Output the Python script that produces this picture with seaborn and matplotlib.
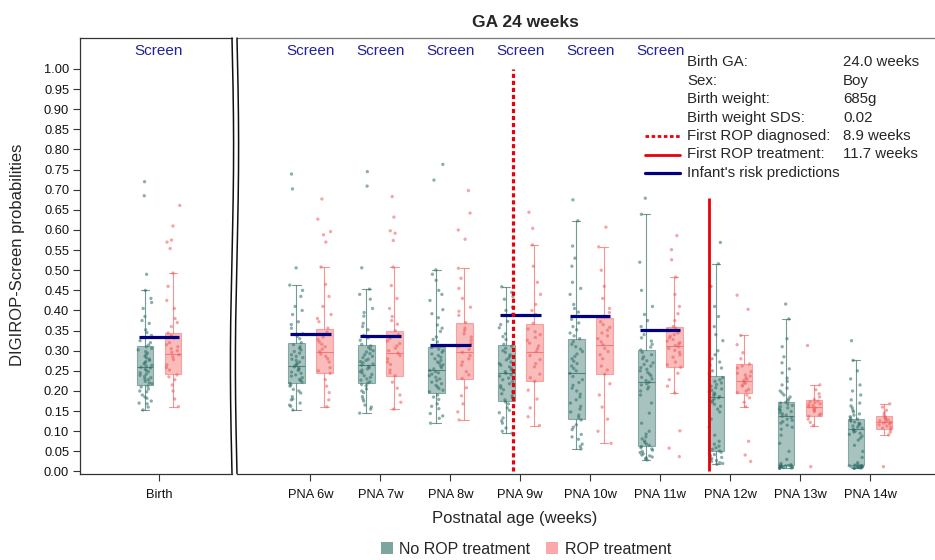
import numpy as np
import pandas as pd
import matplotlib
matplotlib.use("Agg")
import matplotlib.pyplot as plt
from matplotlib.lines import Line2D
from matplotlib.patches import Patch
from matplotlib.ticker import FormatStrFormatter
import seaborn as sns

# ---------------- data ----------------
categories = ["Birth", "PNA 6w", "PNA 7w", "PNA 8w", "PNA 9w", "PNA 10w",
              "PNA 11w", "PNA 12w", "PNA 13w", "PNA 14w"]
pna_weeks = [6, 7, 8, 9, 10, 11, 12, 13, 14]
groups = ["No ROP treatment", "ROP treatment"]

# box statistics (Birth, PNA 6w ... PNA 14w)
no_whislo = [0.153, 0.153, 0.145, 0.120, 0.095, 0.056, 0.029, 0.018, 0.008, 0.008]
no_q1     = [0.215, 0.219, 0.219, 0.195, 0.174, 0.131, 0.064, 0.050, 0.017, 0.017]
no_med    = [0.259, 0.263, 0.265, 0.251, 0.244, 0.244, 0.222, 0.185, 0.137, 0.105]
no_q3     = [0.312, 0.320, 0.315, 0.310, 0.315, 0.330, 0.302, 0.238, 0.172, 0.131]
no_whishi = [0.450, 0.463, 0.453, 0.501, 0.459, 0.623, 0.639, 0.516, 0.379, 0.276]

tx_whislo = [0.161, 0.161, 0.155, 0.128, 0.114, 0.070, 0.195, 0.161, 0.114, 0.091]
tx_q1     = [0.241, 0.244, 0.238, 0.231, 0.224, 0.242, 0.259, 0.196, 0.137, 0.106]
tx_med    = [0.292, 0.298, 0.294, 0.296, 0.298, 0.315, 0.313, 0.226, 0.161, 0.122]
tx_q3     = [0.344, 0.354, 0.348, 0.368, 0.367, 0.382, 0.359, 0.267, 0.178, 0.139]
tx_whishi = [0.493, 0.508, 0.508, 0.505, 0.563, 0.558, 0.483, 0.338, 0.215, 0.168]

# individual probabilities (read approximately from the strip points)
no_birth = [0.153, 0.16, 0.168, 0.175, 0.182, 0.19, 0.198, 0.205, 0.212, 0.218, 0.224, 0.23,
            0.236, 0.242, 0.248, 0.254, 0.259, 0.264, 0.27, 0.276, 0.282, 0.29, 0.298, 0.306,
            0.314, 0.325, 0.338, 0.352, 0.368, 0.385, 0.405, 0.43, 0.45, 0.49, 0.685, 0.72,
            0.17, 0.185, 0.2, 0.21, 0.22, 0.228, 0.233, 0.239, 0.245, 0.251, 0.257, 0.262,
            0.267, 0.273, 0.279, 0.286, 0.294, 0.302, 0.31, 0.32, 0.345, 0.375, 0.42]
tx_birth = [0.161, 0.18, 0.2, 0.215, 0.228, 0.24, 0.252, 0.265, 0.278, 0.29, 0.3, 0.31, 0.32,
            0.332, 0.344, 0.36, 0.38, 0.405, 0.425, 0.46, 0.493, 0.554, 0.57, 0.575, 0.61, 0.661,
            0.235, 0.258, 0.285, 0.296, 0.305, 0.315, 0.338, 0.37]
no_6w = [0.153, 0.162, 0.17, 0.178, 0.186, 0.195, 0.204, 0.212, 0.219, 0.226, 0.233, 0.24,
         0.247, 0.254, 0.26, 0.266, 0.272, 0.279, 0.286, 0.294, 0.302, 0.31, 0.32, 0.33, 0.342,
         0.356, 0.372, 0.39, 0.41, 0.435, 0.463, 0.506, 0.702, 0.739,
         0.165, 0.18, 0.2, 0.215, 0.222, 0.229, 0.237, 0.244, 0.251, 0.257, 0.263, 0.269,
         0.276, 0.283, 0.29, 0.298, 0.306, 0.315, 0.336, 0.365, 0.4, 0.45]
tx_6w = [0.161, 0.178, 0.196, 0.212, 0.228, 0.244, 0.258, 0.272, 0.286, 0.298, 0.31, 0.322,
         0.334, 0.346, 0.356, 0.372, 0.39, 0.41, 0.435, 0.465, 0.508, 0.57, 0.588, 0.596, 0.627,
         0.677, 0.25, 0.28, 0.292, 0.304, 0.316, 0.328, 0.34, 0.38]
no_7w = [0.145, 0.155, 0.165, 0.175, 0.186, 0.196, 0.205, 0.213, 0.22, 0.227, 0.234, 0.241,
         0.248, 0.255, 0.261, 0.267, 0.273, 0.279, 0.286, 0.293, 0.3, 0.308, 0.316, 0.326, 0.338,
         0.352, 0.368, 0.386, 0.405, 0.428, 0.453, 0.506, 0.709, 0.745,
         0.16, 0.18, 0.2, 0.216, 0.223, 0.23, 0.238, 0.245, 0.252, 0.258, 0.264, 0.27, 0.276,
         0.283, 0.29, 0.297, 0.304, 0.312, 0.332, 0.36, 0.395, 0.44]
tx_7w = [0.155, 0.172, 0.19, 0.207, 0.222, 0.238, 0.252, 0.266, 0.28, 0.294, 0.306, 0.318, 0.33,
         0.34, 0.35, 0.366, 0.385, 0.405, 0.43, 0.462, 0.508, 0.574, 0.592, 0.598, 0.632, 0.683,
         0.245, 0.272, 0.288, 0.3, 0.312, 0.324, 0.336, 0.375]
no_8w = [0.12, 0.132, 0.144, 0.156, 0.168, 0.179, 0.19, 0.198, 0.206, 0.214, 0.222, 0.23, 0.238,
         0.245, 0.251, 0.258, 0.265, 0.272, 0.28, 0.288, 0.296, 0.304, 0.312, 0.322, 0.334, 0.348,
         0.364, 0.382, 0.402, 0.425, 0.45, 0.475, 0.501, 0.724, 0.763,
         0.138, 0.162, 0.185, 0.202, 0.21, 0.218, 0.226, 0.234, 0.242, 0.248, 0.255, 0.262,
         0.269, 0.276, 0.284, 0.292, 0.3, 0.308, 0.328, 0.356, 0.392, 0.44, 0.49]
tx_8w = [0.128, 0.148, 0.168, 0.188, 0.208, 0.231, 0.248, 0.264, 0.28, 0.296, 0.31, 0.326, 0.342,
         0.356, 0.37, 0.388, 0.408, 0.43, 0.455, 0.48, 0.505, 0.577, 0.6, 0.642, 0.698,
         0.24, 0.272, 0.288, 0.303, 0.318, 0.334, 0.35, 0.398]
no_9w = [0.095, 0.108, 0.12, 0.133, 0.146, 0.158, 0.168, 0.178, 0.188, 0.198, 0.208, 0.218,
         0.228, 0.237, 0.244, 0.252, 0.26, 0.268, 0.277, 0.286, 0.296, 0.306, 0.316, 0.328,
         0.342, 0.357, 0.373, 0.39, 0.408, 0.428, 0.445, 0.459,
         0.1, 0.126, 0.152, 0.173, 0.183, 0.193, 0.203, 0.213, 0.223, 0.232, 0.24, 0.248,
         0.256, 0.264, 0.272, 0.281, 0.29, 0.3, 0.311, 0.335, 0.365, 0.4, 0.435]
tx_9w = [0.114, 0.136, 0.158, 0.18, 0.202, 0.224, 0.242, 0.26, 0.278, 0.298, 0.312, 0.326, 0.34,
         0.354, 0.368, 0.39, 0.415, 0.44, 0.47, 0.51, 0.563, 0.604, 0.644,
         0.233, 0.268, 0.288, 0.305, 0.319, 0.333, 0.347, 0.4]
no_10w = [0.056, 0.068, 0.08, 0.092, 0.104, 0.116, 0.128, 0.14, 0.155, 0.17, 0.185, 0.2, 0.214,
          0.228, 0.244, 0.256, 0.268, 0.28, 0.292, 0.304, 0.316, 0.33, 0.344, 0.36, 0.378, 0.396,
          0.415, 0.44, 0.47, 0.51, 0.56, 0.623, 0.675,
          0.062, 0.086, 0.11, 0.134, 0.148, 0.162, 0.178, 0.192, 0.207, 0.221, 0.236, 0.25,
          0.262, 0.274, 0.286, 0.298, 0.31, 0.323, 0.337, 0.352, 0.369, 0.405, 0.455, 0.53]
tx_10w = [0.07, 0.1, 0.13, 0.16, 0.19, 0.218, 0.242, 0.262, 0.28, 0.298, 0.315, 0.33, 0.344,
          0.358, 0.372, 0.385, 0.405, 0.43, 0.46, 0.5, 0.558, 0.607,
          0.252, 0.29, 0.306, 0.322, 0.337, 0.351, 0.365, 0.395]
no_11w = [0.029, 0.034, 0.039, 0.044, 0.05, 0.056, 0.062, 0.068, 0.076, 0.086, 0.1, 0.12, 0.145,
          0.17, 0.19, 0.205, 0.215, 0.222, 0.23, 0.238, 0.246, 0.254, 0.262, 0.27, 0.28, 0.29,
          0.302, 0.316, 0.332, 0.35, 0.375, 0.41, 0.45, 0.52, 0.639, 0.679,
          0.031, 0.036, 0.041, 0.047, 0.053, 0.059, 0.065, 0.072, 0.081, 0.093, 0.2, 0.21,
          0.218, 0.226, 0.234, 0.242, 0.25, 0.258, 0.266, 0.275, 0.285, 0.296, 0.309, 0.324,
          0.34, 0.36, 0.39]
tx_11w = [0.195, 0.212, 0.228, 0.244, 0.259, 0.272, 0.284, 0.296, 0.306, 0.313, 0.32, 0.328,
          0.336, 0.344, 0.352, 0.36, 0.375, 0.392, 0.41, 0.44, 0.483, 0.526, 0.551, 0.586,
          0.101, 0.058, 0.037, 0.265, 0.29, 0.301, 0.31, 0.317, 0.324, 0.332, 0.34, 0.356]
no_12w = [0.018, 0.022, 0.027, 0.032, 0.037, 0.042, 0.048, 0.055, 0.063, 0.075, 0.09, 0.11, 0.13,
          0.148, 0.162, 0.172, 0.18, 0.186, 0.192, 0.198, 0.205, 0.212, 0.22, 0.228, 0.238, 0.25,
          0.264, 0.28, 0.3, 0.325, 0.36, 0.41, 0.46, 0.516, 0.569,
          0.02, 0.025, 0.03, 0.035, 0.04, 0.045, 0.051, 0.059, 0.068, 0.155, 0.167, 0.176,
          0.183, 0.189, 0.195, 0.202, 0.208, 0.216, 0.224, 0.233, 0.244, 0.257, 0.272, 0.29,
          0.34, 0.385]
tx_12w = [0.161, 0.172, 0.183, 0.19, 0.196, 0.204, 0.212, 0.219, 0.226, 0.233, 0.24, 0.248,
          0.257, 0.267, 0.28, 0.295, 0.315, 0.338, 0.403, 0.438, 0.075, 0.041, 0.025,
          0.2, 0.215, 0.222, 0.229, 0.237, 0.244, 0.262]
no_13w = [0.008, 0.009, 0.01, 0.011, 0.012, 0.013, 0.014, 0.015, 0.017, 0.02, 0.03, 0.05, 0.07,
          0.09, 0.105, 0.115, 0.124, 0.13, 0.137, 0.143, 0.149, 0.155, 0.161, 0.167, 0.172, 0.18,
          0.19, 0.2, 0.215, 0.232, 0.255, 0.285, 0.33, 0.379, 0.416,
          0.008, 0.009, 0.01, 0.011, 0.012, 0.013, 0.014, 0.016, 0.11, 0.12, 0.127, 0.134,
          0.14, 0.146, 0.152, 0.158, 0.164, 0.17, 0.176, 0.185, 0.195, 0.207, 0.224, 0.245,
          0.27, 0.31]
tx_13w = [0.114, 0.122, 0.13, 0.137, 0.143, 0.149, 0.155, 0.161, 0.166, 0.171, 0.175, 0.179,
          0.185, 0.193, 0.203, 0.215, 0.313, 0.012, 0.14, 0.152, 0.158, 0.164, 0.168, 0.173]
no_14w = [0.008, 0.009, 0.01, 0.011, 0.012, 0.013, 0.014, 0.015, 0.017, 0.022, 0.035, 0.05, 0.065,
          0.078, 0.088, 0.095, 0.1, 0.105, 0.11, 0.115, 0.12, 0.125, 0.13, 0.136, 0.143, 0.152,
          0.163, 0.178, 0.2, 0.23, 0.276, 0.325,
          0.008, 0.009, 0.01, 0.011, 0.012, 0.013, 0.014, 0.016, 0.083, 0.092, 0.098, 0.103,
          0.108, 0.113, 0.118, 0.123, 0.128, 0.133, 0.14, 0.148, 0.158, 0.17, 0.19, 0.215, 0.25]
tx_14w = [0.091, 0.098, 0.104, 0.108, 0.113, 0.118, 0.122, 0.126, 0.13, 0.135, 0.139, 0.145,
          0.152, 0.16, 0.168, 0.012, 0.11, 0.116, 0.12, 0.124, 0.128, 0.133]

no_points = [no_birth, no_6w, no_7w, no_8w, no_9w, no_10w, no_11w, no_12w, no_13w, no_14w]
tx_points = [tx_birth, tx_6w, tx_7w, tx_8w, tx_9w, tx_10w, tx_11w, tx_12w, tx_13w, tx_14w]

# infant's risk predictions (Birth, PNA 6w ... PNA 11w)
risk_categories = ["Birth", "PNA 6w", "PNA 7w", "PNA 8w", "PNA 9w", "PNA 10w", "PNA 11w"]
risk_pred = [0.334, 0.341, 0.337, 0.315, 0.388, 0.387, 0.352]
screen_categories = risk_categories

first_rop_diag = 8.9
first_rop_treat = 11.7

info_labels = ["Birth GA:", "Sex:", "Birth weight:", "Birth weight SDS:",
               "First ROP diagnosed:", "First ROP treatment:", "Infant's risk predictions"]
info_values = ["24.0 weeks", "Boy", "685g", "0.02", "8.9 weeks", "11.7 weeks", ""]

# ---------------- style ----------------
sns.set_style("white")
plt.rcParams["font.family"] = ["Liberation Sans", "DejaVu Sans"]

TEAL_PT = "#2b6d65"
PINK_PT = "#f05a5a"
TEAL_BOX = "#6f9c95"
PINK_BOX = "#f88e8e"
NAVY = "#000080"
RED = "#e8000b"
SCREEN_C = "#22229a"

W, H = 935, 560
def fx(px):
    return np.asarray(px) / W
def fy(py):
    return 1 - np.asarray(py) / H

fig = plt.figure(figsize=(9.35, 5.6), dpi=100)
top_px, bot_px = 38, 473.5
ax_l = fig.add_axes([fx(80.3), fy(bot_px), fx(232) - fx(80.3), fy(top_px) - fy(bot_px)])
ax_r = fig.add_axes([fx(237), fy(bot_px), 1 - fx(237), fy(top_px) - fy(bot_px)])

rows = []
for cat, pn, pt in zip(categories, no_points, tx_points):
    rows += [(cat, groups[0], v) for v in pn]
    rows += [(cat, groups[1], v) for v in pt]
df = pd.DataFrame(rows, columns=["age", "group", "prob"])

palette = {groups[0]: TEAL_PT, groups[1]: PINK_PT}

def draw_panel(ax, cats):
    sub = df[df["age"].isin(cats)]
    sns.stripplot(data=sub, x="age", y="prob", hue="group", order=cats, hue_order=groups,
                  dodge=True, jitter=0.2, palette=palette, size=2.4, alpha=0.55,
                  linewidth=0, legend=False, ax=ax, zorder=3)
    idx = [categories.index(c) for c in cats]
    base = np.arange(len(cats))
    for off, (wl, q1, md, q3, wh), fc, ec in [
        (-0.2, (no_whislo, no_q1, no_med, no_q3, no_whishi), TEAL_BOX, "#4f837b"),
        (0.2, (tx_whislo, tx_q1, tx_med, tx_q3, tx_whishi), PINK_BOX, "#f27a7a"),
    ]:
        stats = [dict(whislo=wl[i], q1=q1[i], med=md[i], q3=q3[i], whishi=wh[i], fliers=[])
                 for i in idx]
        ax.bxp(stats, positions=base + off, widths=0.24, patch_artist=True,
               showfliers=False, manage_ticks=False, capwidths=0.12,
               boxprops=dict(facecolor=fc, alpha=0.6, edgecolor=ec, linewidth=0.8),
               whiskerprops=dict(color=ec, linewidth=0.8, alpha=0.8),
               capprops=dict(color=ec, linewidth=0.8, alpha=0.8),
               medianprops=dict(color=ec, linewidth=0.8), zorder=2)
    for c, r in zip(risk_categories, risk_pred):
        if c in cats:
            p = cats.index(c)
            ax.hlines(r, p - 0.29, p + 0.29, color=NAVY, lw=2.3, zorder=5)
    for c in screen_categories:
        if c in cats:
            ax.text(cats.index(c), 1.045, "Screen", color=SCREEN_C, fontsize=11,
                    ha="center", va="center")
    ax.set_xlabel("")
    ax.set_ylabel("")
    ax.set_ylim(-0.005, 1.077)

draw_panel(ax_l, categories[:1])
draw_panel(ax_r, categories[1:])

ax_l.set_xlim(-1.124, 1.043)
ax_r.set_xlim(-1.05, 8.93)

# ROP event lines, placed on the PNA axis
pos = np.arange(len(pna_weeks))
x_diag = np.interp(first_rop_diag, pna_weeks, pos)
x_treat = np.interp(first_rop_treat, pna_weeks, pos)
ax_r.vlines(x_diag, 0, 1.0, colors=RED, linestyles=(0, (1.3, 0.9)), lw=2.3, zorder=6)
ax_r.vlines(x_treat, 0, 0.68, colors=RED, lw=2.0, zorder=6)

# axes styling
ax_l.set_yticks(np.arange(0, 1.0001, 0.05))
ax_l.yaxis.set_major_formatter(FormatStrFormatter("%.2f"))
for ax in (ax_l, ax_r):
    ax.tick_params(axis="both", direction="out", length=5, width=0.8, color="#333333",
                   labelsize=9.3, pad=3, labelcolor="#111111")
    ax.tick_params(axis="x", pad=6)
    for s in ax.spines.values():
        s.set_color("#333333")
        s.set_linewidth(0.9)
ax_r.tick_params(axis="y", left=False, labelleft=False)
ax_l.tick_params(axis="y", left=True)
ax_l.tick_params(axis="x", bottom=True)
ax_r.tick_params(axis="x", bottom=True)
ax_l.spines["right"].set_visible(False)
ax_r.spines["left"].set_visible(False)
ax_r.spines["right"].set_visible(False)
ax_r.spines["top"].set_color("#777777")

# wavy axis-break borders
yy = np.linspace(top_px, bot_px, 200)
wave = 1.6 * np.sin(2 * np.pi * (yy - top_px) / (bot_px - top_px))
for x0 in (232.0, 237.0):
    fig.add_artist(Line2D(fx(x0 + wave), fy(yy), color="#111111", lw=1.1))

# titles / labels
fig.text(fx(525), fy(27), "GA 24 weeks", fontsize=12.5, fontweight="bold",
         ha="center", va="baseline")
fig.text(fx(18), fy(255), "DIGIROP-Screen probabilities", fontsize=12, rotation=90,
         ha="center", va="center")
fig.text(fx(515), fy(519), "Postnatal age (weeks)", fontsize=12, ha="center", va="center")

# info block
row_y = [62.5, 80.9, 99.3, 117.7, 136.1, 154.5, 172.9]
for i, (lab, val) in enumerate(zip(info_labels, info_values)):
    fig.text(fx(687), fy(row_y[i]), lab, fontsize=10.8, ha="left", va="center")
    if val:
        fig.text(fx(843), fy(row_y[i]), val, fontsize=10.8, ha="left", va="center")
for i, (ls, c, lw) in zip([4, 5, 6], [((0, (1.3, 0.9)), RED, 2.0), ("-", RED, 2.0), ("-", NAVY, 2.3)]):
    fig.add_artist(Line2D(fx([645, 680]), fy([row_y[i], row_y[i]]), color=c, lw=lw,
                          linestyle=ls))

# bottom legend
handles = [Patch(facecolor="#7ba59e", edgecolor="none", label=groups[0]),
           Patch(facecolor="#f9a9a9", edgecolor="none", label=groups[1])]
fig.legend(handles=handles, loc="center", bbox_to_anchor=(fx(526), fy(549)), ncol=2,
           frameon=False, fontsize=11.5, handlelength=0.75, handleheight=0.75,
           handletextpad=0.4, columnspacing=1.0, borderaxespad=0)

fig.savefig("out.png", dpi=100)
